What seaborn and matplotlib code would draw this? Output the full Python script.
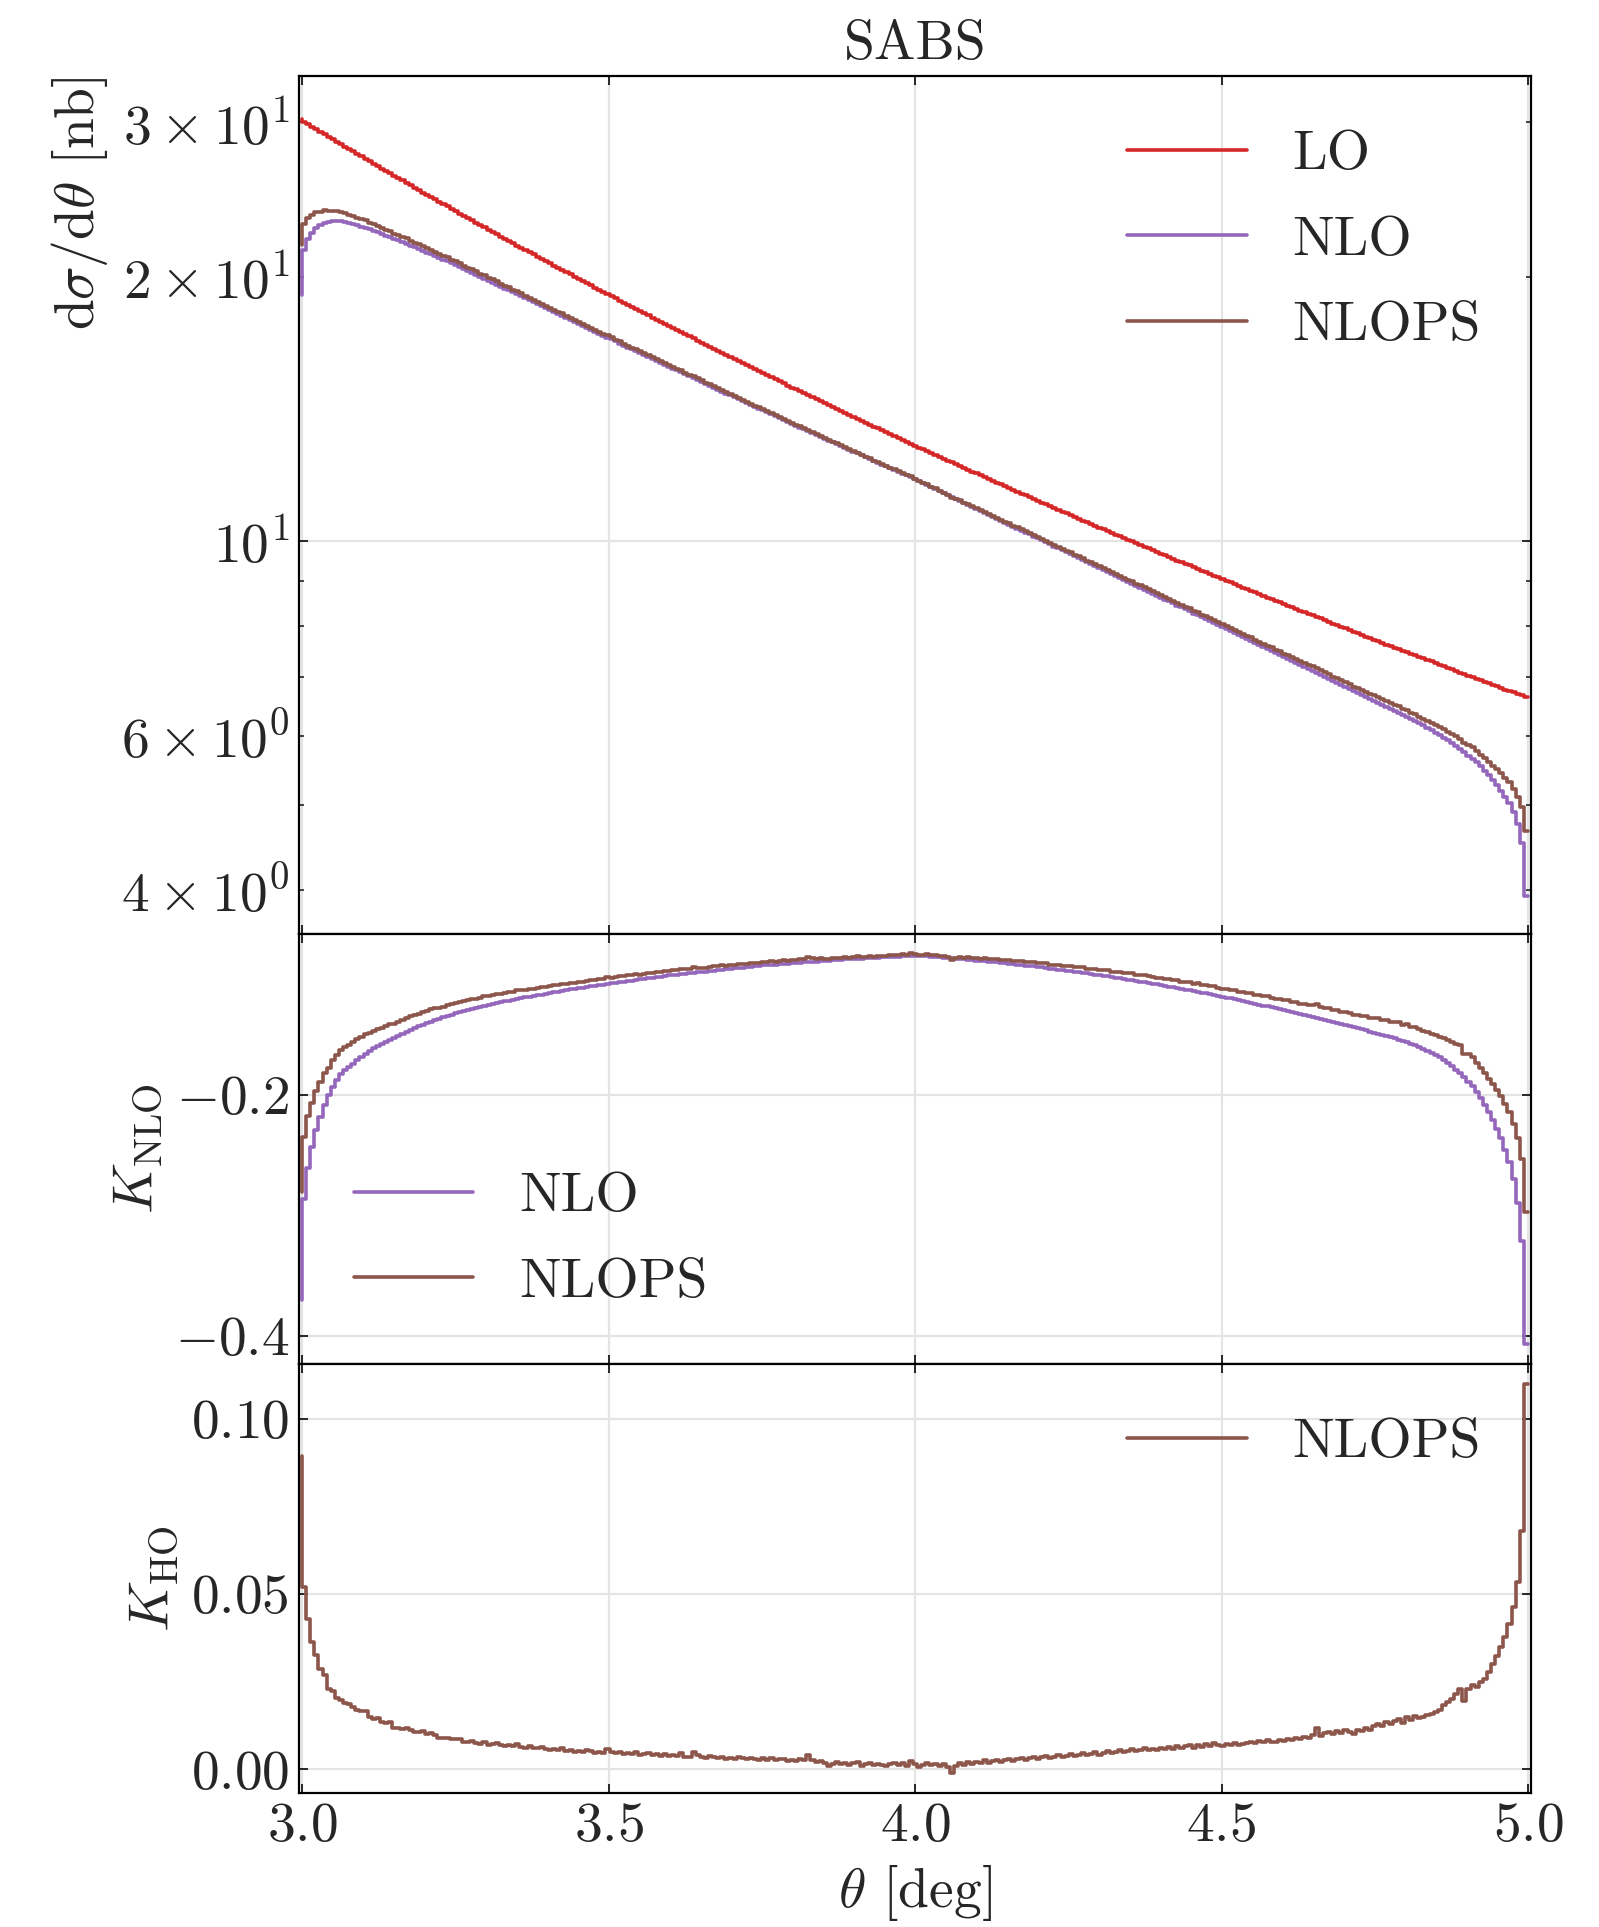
import numpy as np
import matplotlib
matplotlib.use("Agg")
import matplotlib.pyplot as plt
import seaborn as sns

# Scattering angle range [deg] covered by the 300 histogram bins
theta_range = (3.0, 5.0)

# LO differential cross section per bin [nb/deg]
lo_xsec = [
    30.25, 30.06, 29.87, 29.67, 29.48, 29.29, 29.10, 28.91, 28.72, 28.52,
    28.33, 28.16, 27.98, 27.81, 27.63, 27.45, 27.28, 27.10, 26.93, 26.75,
    26.58, 26.41, 26.25, 26.09, 25.93, 25.77, 25.61, 25.44, 25.28, 25.12,
    24.96, 24.81, 24.66, 24.51, 24.37, 24.22, 24.07, 23.92, 23.77, 23.62,
    23.47, 23.34, 23.20, 23.06, 22.92, 22.79, 22.65, 22.51, 22.38, 22.24,
    22.10, 21.98, 21.85, 21.72, 21.60, 21.47, 21.34, 21.22, 21.09, 20.96,
    20.84, 20.72, 20.60, 20.49, 20.37, 20.25, 20.13, 20.02, 19.90, 19.78,
    19.67, 19.56, 19.45, 19.34, 19.23, 19.12, 19.02, 18.91, 18.80, 18.69,
    18.58, 18.48, 18.38, 18.28, 18.18, 18.08, 17.98, 17.88, 17.78, 17.68,
    17.58, 17.48, 17.39, 17.30, 17.20, 17.11, 17.02, 16.92, 16.83, 16.73,
    16.64, 16.55, 16.47, 16.38, 16.29, 16.21, 16.12, 16.03, 15.95, 15.86,
    15.77, 15.69, 15.61, 15.53, 15.45, 15.37, 15.29, 15.21, 15.13, 15.04,
    14.96, 14.89, 14.81, 14.74, 14.66, 14.59, 14.51, 14.44, 14.36, 14.28,
    14.21, 14.14, 14.07, 14.00, 13.93, 13.86, 13.79, 13.72, 13.64, 13.57,
    13.50, 13.44, 13.37, 13.31, 13.24, 13.17, 13.11, 13.04, 12.98, 12.91,
    12.84, 12.78, 12.72, 12.66, 12.60, 12.54, 12.47, 12.41, 12.35, 12.29,
    12.23, 12.17, 12.11, 12.05, 12.00, 11.94, 11.88, 11.82, 11.77, 11.71,
    11.65, 11.60, 11.54, 11.49, 11.43, 11.38, 11.32, 11.27, 11.22, 11.16,
    11.11, 11.06, 11.01, 10.96, 10.90, 10.85, 10.80, 10.75, 10.70, 10.65,
    10.60, 10.55, 10.50, 10.46, 10.41, 10.36, 10.31, 10.27, 10.22, 10.17,
    10.12, 10.08, 10.03, 9.99, 9.94, 9.90, 9.85, 9.81, 9.76, 9.72,
    9.67, 9.63, 9.59, 9.55, 9.50, 9.46, 9.42, 9.38, 9.33, 9.29,
    9.25, 9.21, 9.17, 9.13, 9.09, 9.05, 9.01, 8.97, 8.93, 8.89,
    8.85, 8.81, 8.78, 8.74, 8.70, 8.66, 8.62, 8.59, 8.55, 8.51,
    8.47, 8.44, 8.40, 8.37, 8.33, 8.30, 8.26, 8.23, 8.19, 8.16,
    8.12, 8.09, 8.05, 8.02, 7.98, 7.95, 7.92, 7.88, 7.85, 7.82,
    7.78, 7.75, 7.72, 7.69, 7.66, 7.62, 7.59, 7.56, 7.53, 7.50,
    7.47, 7.44, 7.41, 7.38, 7.35, 7.32, 7.29, 7.26, 7.23, 7.20,
    7.17, 7.14, 7.11, 7.08, 7.05, 7.02, 7.00, 6.97, 6.94, 6.91,
    6.88, 6.85, 6.83, 6.80, 6.77, 6.75, 6.72, 6.69, 6.67, 6.64,
]

# NLO correction relative to LO: K_NLO = (NLO - LO) / LO
k_nlo = [
    -0.3700, -0.2866, -0.2603, -0.2432, -0.2290, -0.2180, -0.2085, -0.2005, -0.1935, -0.1875,
    -0.1825, -0.1795, -0.1770, -0.1740, -0.1710, -0.1683, -0.1658, -0.1636, -0.1615, -0.1596,
    -0.1579, -0.1561, -0.1544, -0.1527, -0.1510, -0.1494, -0.1478, -0.1462, -0.1447, -0.1432,
    -0.1418, -0.1405, -0.1392, -0.1380, -0.1368, -0.1356, -0.1345, -0.1334, -0.1323, -0.1313,
    -0.1303, -0.1294, -0.1285, -0.1277, -0.1269, -0.1261, -0.1253, -0.1246, -0.1239, -0.1232,
    -0.1225, -0.1218, -0.1211, -0.1204, -0.1198, -0.1192, -0.1186, -0.1180, -0.1174, -0.1168,
    -0.1162, -0.1156, -0.1150, -0.1144, -0.1138, -0.1132, -0.1126, -0.1121, -0.1116, -0.1111,
    -0.1106, -0.1101, -0.1096, -0.1091, -0.1086, -0.1081, -0.1076, -0.1071, -0.1067, -0.1062,
    -0.1057, -0.1052, -0.1047, -0.1043, -0.1038, -0.1033, -0.1028, -0.1023, -0.1019, -0.1014,
    -0.1009, -0.1005, -0.1002, -0.0998, -0.0995, -0.0991, -0.0987, -0.0984, -0.0980, -0.0977,
    -0.0973, -0.0969, -0.0966, -0.0962, -0.0959, -0.0955, -0.0951, -0.0948, -0.0944, -0.0941,
    -0.0937, -0.0934, -0.0930, -0.0927, -0.0925, -0.0922, -0.0920, -0.0917, -0.0914, -0.0912,
    -0.0909, -0.0907, -0.0904, -0.0901, -0.0899, -0.0896, -0.0894, -0.0891, -0.0888, -0.0886,
    -0.0883, -0.0881, -0.0879, -0.0877, -0.0875, -0.0874, -0.0872, -0.0870, -0.0868, -0.0866,
    -0.0864, -0.0862, -0.0860, -0.0858, -0.0857, -0.0855, -0.0853, -0.0851, -0.0849, -0.0847,
    -0.0845, -0.0847, -0.0850, -0.0852, -0.0855, -0.0857, -0.0860, -0.0863, -0.0865, -0.0868,
    -0.0871, -0.0874, -0.0877, -0.0880, -0.0883, -0.0886, -0.0889, -0.0893, -0.0896, -0.0899,
    -0.0902, -0.0906, -0.0910, -0.0913, -0.0917, -0.0921, -0.0924, -0.0928, -0.0932, -0.0935,
    -0.0939, -0.0943, -0.0948, -0.0952, -0.0957, -0.0961, -0.0965, -0.0970, -0.0974, -0.0979,
    -0.0983, -0.0988, -0.0993, -0.0998, -0.1003, -0.1008, -0.1013, -0.1018, -0.1023, -0.1028,
    -0.1033, -0.1039, -0.1044, -0.1050, -0.1055, -0.1061, -0.1067, -0.1072, -0.1078, -0.1083,
    -0.1089, -0.1095, -0.1102, -0.1108, -0.1114, -0.1120, -0.1127, -0.1133, -0.1139, -0.1146,
    -0.1152, -0.1159, -0.1166, -0.1173, -0.1180, -0.1187, -0.1193, -0.1200, -0.1207, -0.1214,
    -0.1221, -0.1229, -0.1236, -0.1244, -0.1251, -0.1259, -0.1266, -0.1274, -0.1281, -0.1289,
    -0.1296, -0.1304, -0.1312, -0.1321, -0.1329, -0.1337, -0.1345, -0.1353, -0.1362, -0.1370,
    -0.1378, -0.1387, -0.1396, -0.1404, -0.1413, -0.1422, -0.1431, -0.1440, -0.1448, -0.1457,
    -0.1466, -0.1475, -0.1484, -0.1494, -0.1503, -0.1513, -0.1522, -0.1532, -0.1541, -0.1551,
    -0.1562, -0.1574, -0.1587, -0.1601, -0.1616, -0.1632, -0.1650, -0.1669, -0.1690, -0.1712,
    -0.1736, -0.1762, -0.1790, -0.1820, -0.1852, -0.1890, -0.1930, -0.1975, -0.2025, -0.2080,
    -0.2145, -0.2210, -0.2280, -0.2360, -0.2455, -0.2555, -0.2700, -0.2893, -0.3212, -0.4069,
]

# Higher-order (parton shower) correction: K_HO = (NLOPS - NLO) / LO
k_ho = [
    0.0895, 0.0519, 0.0429, 0.0363, 0.0325, 0.0287, 0.0268, 0.0228, 0.0222, 0.0203,
    0.0199, 0.0189, 0.0186, 0.0178, 0.0170, 0.0166, 0.0167, 0.0148, 0.0143, 0.0145,
    0.0134, 0.0131, 0.0134, 0.0118, 0.0117, 0.0115, 0.0119, 0.0113, 0.0107, 0.0106,
    0.0108, 0.0101, 0.0104, 0.0097, 0.0089, 0.0088, 0.0090, 0.0086, 0.0087, 0.0085,
    0.0079, 0.0078, 0.0080, 0.0076, 0.0073, 0.0077, 0.0070, 0.0072, 0.0075, 0.0068,
    0.0066, 0.0069, 0.0065, 0.0071, 0.0064, 0.0062, 0.0066, 0.0060, 0.0061, 0.0063,
    0.0058, 0.0055, 0.0059, 0.0054, 0.0061, 0.0052, 0.0056, 0.0050, 0.0053, 0.0049,
    0.0054, 0.0051, 0.0047, 0.0050, 0.0045, 0.0058, 0.0049, 0.0046, 0.0050, 0.0044,
    0.0047, 0.0043, 0.0048, 0.0041, 0.0044, 0.0046, 0.0040, 0.0043, 0.0039, 0.0044,
    0.0037, 0.0041, 0.0038, 0.0045, 0.0036, 0.0034, 0.0050, 0.0040, 0.0036, 0.0033,
    0.0037, 0.0034, 0.0031, 0.0036, 0.0030, 0.0033, 0.0029, 0.0035, 0.0031, 0.0028,
    0.0033, 0.0030, 0.0026, 0.0031, 0.0027, 0.0032, 0.0025, 0.0028, 0.0030, 0.0023,
    0.0027, 0.0024, 0.0029, 0.0026, 0.0040, 0.0027, 0.0021, 0.0024, 0.0018, 0.0009,
    0.0016, 0.0020, 0.0014, 0.0019, 0.0012, 0.0017, 0.0020, 0.0010, 0.0015, 0.0018,
    0.0011, 0.0016, 0.0013, 0.0008, 0.0015, 0.0019, 0.0012, 0.0017, 0.0010, 0.0024,
    0.0014, 0.0007, 0.0012, 0.0018, 0.0011, 0.0016, 0.0009, 0.0014, 0.0006, -0.0012,
    0.0010, 0.0017, 0.0013, 0.0021, 0.0016, 0.0022, 0.0018, 0.0025, 0.0019, 0.0023,
    0.0027, 0.0021, 0.0026, 0.0030, 0.0024, 0.0029, 0.0032, 0.0027, 0.0031, 0.0035,
    0.0029, 0.0034, 0.0038, 0.0032, 0.0036, 0.0041, 0.0035, 0.0039, 0.0044, 0.0037,
    0.0042, 0.0046, 0.0040, 0.0044, 0.0048, 0.0042, 0.0047, 0.0053, 0.0045, 0.0050,
    0.0054, 0.0048, 0.0052, 0.0058, 0.0051, 0.0055, 0.0061, 0.0054, 0.0058, 0.0056,
    0.0062, 0.0057, 0.0064, 0.0059, 0.0066, 0.0060, 0.0065, 0.0068, 0.0061, 0.0070,
    0.0064, 0.0072, 0.0067, 0.0074, 0.0068, 0.0066, 0.0073, 0.0070, 0.0076, 0.0069,
    0.0072, 0.0074, 0.0078, 0.0075, 0.0080, 0.0077, 0.0083, 0.0079, 0.0078, 0.0084,
    0.0081, 0.0087, 0.0083, 0.0090, 0.0086, 0.0093, 0.0089, 0.0097, 0.0118, 0.0095,
    0.0102, 0.0106, 0.0100, 0.0108, 0.0104, 0.0113, 0.0106, 0.0101, 0.0112, 0.0108,
    0.0119, 0.0113, 0.0124, 0.0130, 0.0122, 0.0135, 0.0128, 0.0139, 0.0144, 0.0133,
    0.0148, 0.0141, 0.0152, 0.0146, 0.0149, 0.0154, 0.0158, 0.0163, 0.0168, 0.0182,
    0.0192, 0.0201, 0.0216, 0.0230, 0.0195, 0.0228, 0.0240, 0.0236, 0.0249, 0.0258,
    0.0277, 0.0301, 0.0322, 0.0349, 0.0377, 0.0415, 0.0462, 0.0534, 0.0679, 0.1100,
]

series_labels = ["LO", "NLO", "NLOPS"]
series_colors = {"LO": "#d62728", "NLO": "#9467bd", "NLOPS": "#8c564b"}

if not (len(lo_xsec) == len(k_nlo) == len(k_ho)):
    raise ValueError("bin arrays differ in length")

# Derived quantities
lo = np.asarray(lo_xsec)
kn = np.asarray(k_nlo)
kh = np.asarray(k_ho)
theta = np.linspace(theta_range[0], theta_range[1], lo.size)
nlo = lo * (1.0 + kn)
nlops = nlo + lo * kh
kn_ps = kn + kh

sns.set_theme(style="ticks")
plt.rcParams.update({
    "font.family": "serif",
    "font.serif": ["cmr10"],
    "mathtext.fontset": "cm",
    "axes.formatter.use_mathtext": True,
    "axes.unicode_minus": True,
    "font.size": 20,
    "axes.labelsize": 20,
    "axes.titlesize": 20,
    "xtick.labelsize": 20,
    "ytick.labelsize": 20,
    "legend.fontsize": 20,
    "legend.handlelength": 2.15,
    "legend.handletextpad": 0.83,
    "legend.labelspacing": 0.64,
    "xtick.direction": "in",
    "ytick.direction": "in",
    "xtick.top": True,
    "ytick.right": True,
    "xtick.major.size": 3.2,
    "ytick.major.size": 3.2,
    "xtick.minor.size": 1.8,
    "ytick.minor.size": 1.8,
    "xtick.major.width": 0.7,
    "ytick.major.width": 0.7,
    "ytick.minor.width": 0.6,
    "axes.linewidth": 0.8,
    "axes.edgecolor": "black",
    "axes.grid": True,
    "grid.color": "#e4e4e4",
    "grid.linewidth": 0.8,
    "axes.axisbelow": True,
    "legend.frameon": False,
})

fig, (ax_xs, ax_kn, ax_kh) = plt.subplots(
    3, 1, sharex=True, figsize=(7.995, 9.635), dpi=200,
    gridspec_kw=dict(height_ratios=[2, 1, 1], hspace=0.0,
                     left=0.187, right=0.9575, top=0.9606, bottom=0.0695),
)

lw = 1.3
step = dict(drawstyle="steps-pre", linewidth=lw)

# Differential cross sections
for name, vals in zip(series_labels, [lo, nlo, nlops]):
    sns.lineplot(x=theta, y=vals, ax=ax_xs, color=series_colors[name], label=name, **step)
ax_xs.set_yscale("log")
ax_xs.set_ylim(3.56, 33.9)
ax_xs.set_ylabel(r"$\mathrm{d}\sigma/\mathrm{d}\theta$ [nb]", loc="top")
ax_xs.set_title("SABS", pad=6.0)
ax_xs.legend(loc="upper right", bbox_to_anchor=(1.0, 0.995))

# NLO K-factors
for name, vals in zip(["NLO", "NLOPS"], [kn, kn_ps]):
    sns.lineplot(x=theta, y=vals, ax=ax_kn, color=series_colors[name], label=name, **step)
ax_kn.set_ylim(-0.423, -0.067)
ax_kn.set_yticks([-0.4, -0.2])
ax_kn.set_ylabel(r"$K_{\mathrm{NLO}}$")
ax_kn.legend(loc="lower left", bbox_to_anchor=(0.004, 0.014))

# Higher-order K-factor
sns.lineplot(x=theta, y=kh, ax=ax_kh, color=series_colors["NLOPS"], label="NLOPS", **step)
ax_kh.set_ylim(-0.0068, 0.1157)
ax_kh.set_yticks([0.0, 0.05, 0.10])
ax_kh.set_ylabel(r"$K_{\mathrm{HO}}$")
ax_kh.legend(loc="upper right", bbox_to_anchor=(1.0, 0.99))

ax_kh.set_xlim(2.995, 5.005)
ax_kh.set_xticks([3.0, 3.5, 4.0, 4.5, 5.0])
ax_kh.set_xlabel(r"$\theta$ [deg]")

for ax in (ax_xs, ax_kn, ax_kh):
    ax.tick_params(which="both", top=True, right=True, direction="in")
    for sp in ax.spines.values():
        sp.set_color("black")
        sp.set_linewidth(0.8)

fig.savefig("out.png", dpi=200)
